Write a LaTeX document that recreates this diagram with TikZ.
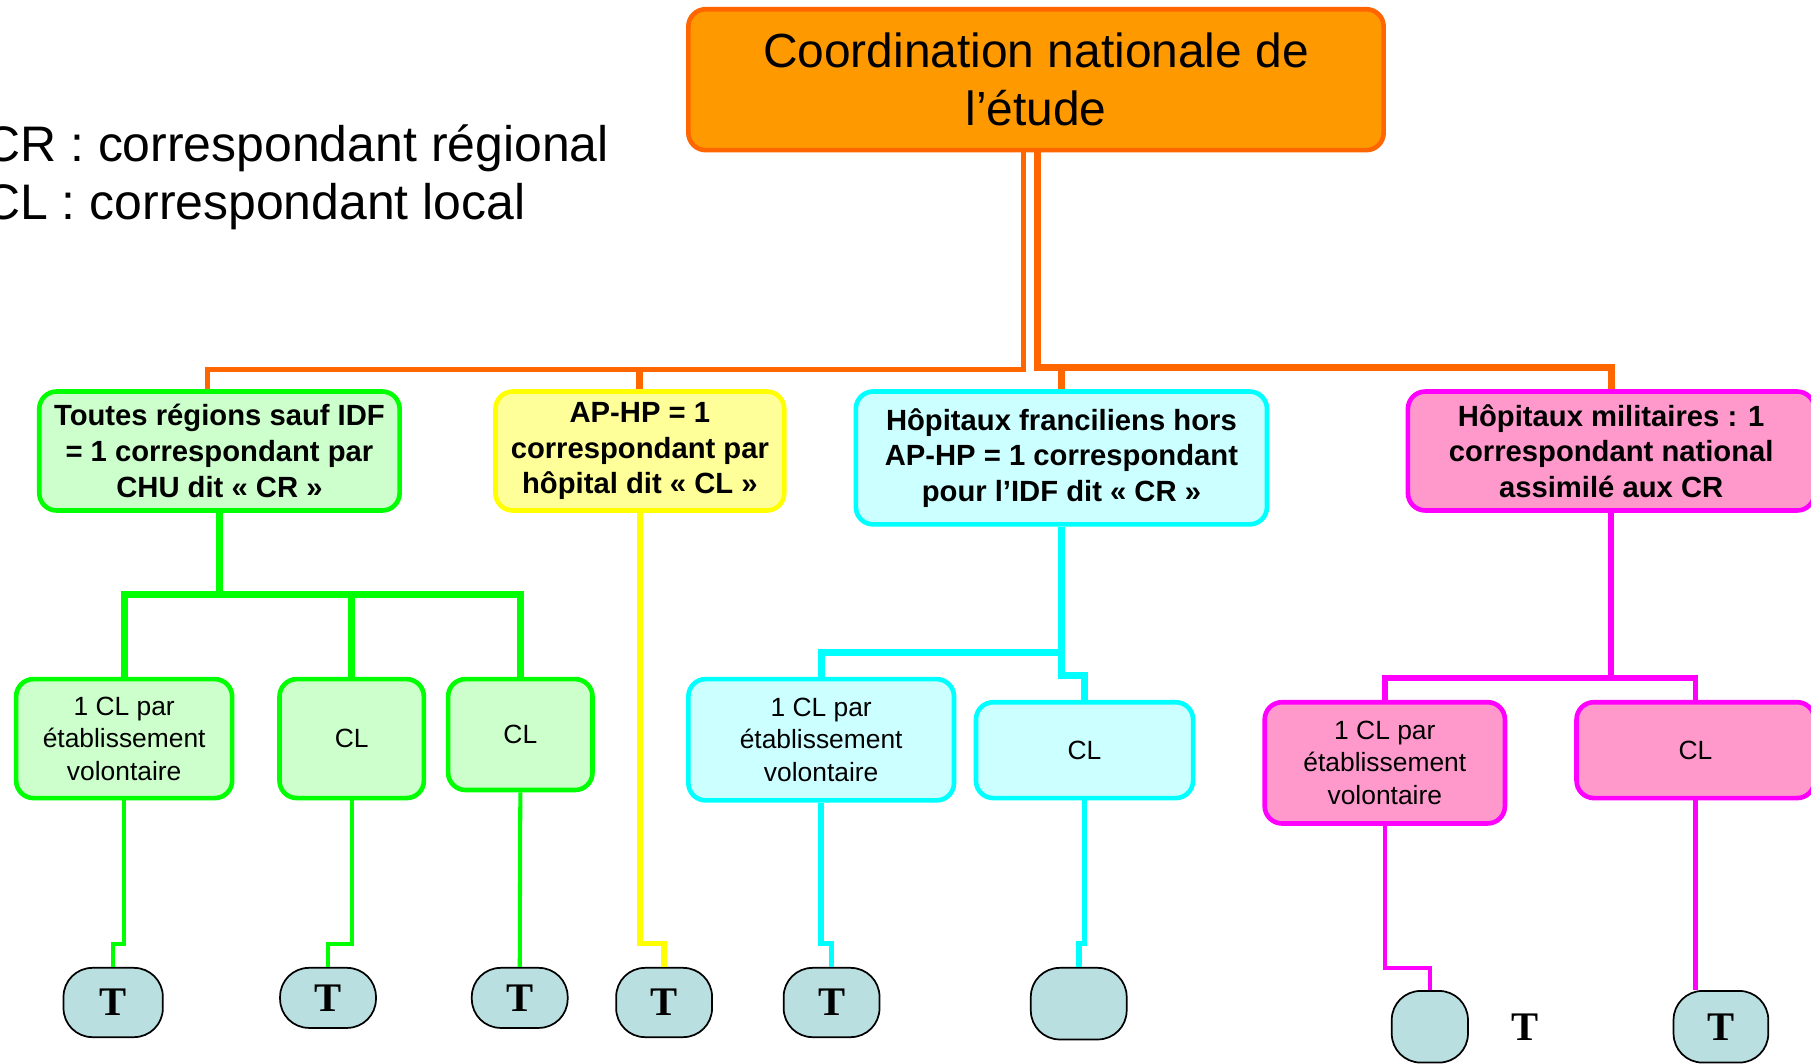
\documentclass[tikz,border=0pt]{standalone}
\usepackage{fontspec}
\setmainfont{Liberation Sans}
\newfontfamily\serifT{Liberation Serif}

\definecolor{coordfill}{HTML}{FF9900}
\definecolor{coorddraw}{HTML}{FF6600}
\definecolor{greenfill}{HTML}{CCFFCC}
\definecolor{greendraw}{HTML}{00FF00}
\definecolor{yellowfill}{HTML}{FFFF99}
\definecolor{yellowdraw}{HTML}{FFFF00}
\definecolor{cyanfill}{HTML}{CCFFFF}
\definecolor{cyandraw}{HTML}{00FFFF}
\definecolor{pinkfill}{HTML}{FF99CC}
\definecolor{pinkdraw}{HTML}{FF00FF}
\definecolor{tfill}{HTML}{B9DFE1}

\tikzset{
    box/.style={draw, line width=0.4mm, rounded corners=1.5mm, align=center, inner sep=0pt},
    topbox/.style={box, fill=coordfill, draw=coorddraw, minimum width=60.2mm, minimum height=12.2mm,
        font=\fontsize{11.8}{14.2}\selectfont},
    crbox/.style={box, font=\bfseries\fontsize{7.2}{8.8}\selectfont},
    clbox/.style={box, font=\fontsize{6.5}{8}\selectfont},
    greenbox/.style={fill=greenfill, draw=greendraw},
    yellowbox/.style={fill=yellowfill, draw=yellowdraw},
    cyanbox/.style={fill=cyanfill, draw=cyandraw},
    pinkbox/.style={fill=pinkfill, draw=pinkdraw},
    tcell/.style={draw=black, line width=0.15mm, fill=tfill, rounded corners=2.5mm, inner sep=0pt,
        font=\serifT\bfseries\fontsize{10}{10}\selectfont},
    legend/.style={anchor=base west, font=\fontsize{12.3}{14.2}\selectfont},
    orangeline/.style={draw=coorddraw, line width=0.6mm},
    greenline/.style={draw=greendraw, line width=0.6mm},
    yellowline/.style={draw=yellowdraw, line width=0.5mm},
    cyanline/.style={draw=cyandraw, line width=0.6mm},
    pinkline/.style={draw=pinkdraw, line width=0.5mm}
}

\begin{document}
\begin{tikzpicture}[x=0.1mm, y=-0.1mm]
    \useasboundingbox (0,0) rectangle (1568,920.4);

    % legend
    \node[legend] (legCR) at (-26,140) {CR : correspondant régional};
    \node[legend] (legCL) at (-26,190) {CL : correspondant local};

    % top
    \node[topbox] (coord) at (897,69) {Coordination nationale de\\l’étude};

    % correspondants
    \node[crbox, greenbox, minimum width=31.2mm, minimum height=10.3mm] (regions) at (190,390.5)
        {Toutes régions sauf IDF\\= 1 correspondant par\\CHU dit «~CR~»};
    \node[crbox, yellowbox, minimum width=25mm, minimum height=10.3mm] (aphp) at (554,390.5)
        {AP-HP = 1\\correspondant par\\hôpital dit «~CL~»};
    \node[crbox, cyanbox, minimum width=35.6mm, minimum height=11.5mm] (franciliens) at (919,396.5)
        {Hôpitaux franciliens hors\\AP-HP = 1 correspondant\\pour l’IDF dit «~CR~»};
    \node[crbox, pinkbox, minimum width=35.2mm, minimum height=10.3mm] (militaires) at (1395,390.5)
        {Hôpitaux militaires : 1\\correspondant national\\assimilé aux CR};

    % correspondants locaux
    \node[clbox, greenbox, minimum width=18.7mm, minimum height=10.3mm] (regEtab) at (107.5,639.5)
        {1 CL par\\établissement\\volontaire};
    \node[clbox, greenbox, minimum width=12.5mm, minimum height=10.3mm] (regCLa) at (304.5,639.5) {CL};
    \node[clbox, greenbox, minimum width=12.5mm, minimum height=9.6mm] (regCLb) at (450.5,636) {CL};
    \node[clbox, cyanbox, minimum width=23mm, minimum height=10.5mm] (idfEtab) at (711,640.5)
        {1 CL par\\établissement\\volontaire};
    \node[clbox, cyanbox, minimum width=18.8mm, minimum height=8.3mm] (idfCL) at (939,649.5) {CL};
    \node[clbox, pinkbox, minimum width=20.8mm, minimum height=10.5mm] (milEtab) at (1199,660.5)
        {1 CL par\\établissement\\volontaire};
    \node[clbox, pinkbox, minimum width=20.6mm, minimum height=8.3mm] (milCL) at (1468,649.5) {CL};

    % T
    \node[tcell, minimum width=8.6mm, minimum height=6mm] (tReg1) at (98,868) {T};
    \node[tcell, minimum width=8.3mm, minimum height=5.2mm] (tReg2) at (284,864) {T};
    \node[tcell, minimum width=8.3mm, minimum height=5.2mm] (tReg3) at (450,864) {T};
    \node[tcell, minimum width=8.3mm, minimum height=6mm] (tAphp) at (575,868) {T};
    \node[tcell, minimum width=8.3mm, minimum height=6mm] (tIdf1) at (720,868) {T};
    \node[tcell, minimum width=8.3mm, minimum height=6.2mm] (tIdf2) at (934,869) {};
    \node[tcell, minimum width=6.6mm, minimum height=6.2mm] (tMil1) at (1238,889) {};
    \node[font=\serifT\bfseries\fontsize{10}{10}\selectfont] (tLoose) at (1320,889) {T};
    \node[tcell, minimum width=8.2mm, minimum height=6.2mm] (tMil2) at (1490,889) {T};

    % orange
    \coordinate (busL) at (886,320);
    \coordinate (busR) at (898,318);
    \draw[orangeline, line width=0.45mm] (coord.south -| busL) -- (busL) -| ([xshift=-1mm]regions.north);
    \draw[orangeline] (busL -| aphp.north) -- (aphp.north);
    \draw[orangeline] (coord.south -| busR) -- (busR) -| (militaires.north);
    \draw[orangeline] (busR -| franciliens.north) -- (franciliens.north);

    % vert
    \coordinate (gj) at (190,515);
    \draw[greenline] (regions.south) -- (gj);
    \draw[greenline] (regEtab.north) |- (gj);
    \draw[greenline] (regCLa.north) |- (gj);
    \draw[greenline] (regCLb.north) |- (gj);
    \draw[greenline, line width=0.35mm] (regEtab.south) -- ++(0,124) -| (tReg1.north);
    \draw[greenline, line width=0.35mm] (regCLa.south) -- ++(0,124) -| (tReg2.north);
    \draw[greenline, line width=0.35mm] (regCLb.south) -- (tReg3.north);

    % jaune
    \draw[yellowline] (aphp.south) -- ++(0,373) -| (tAphp.north);

    % cyan
    \coordinate (cj) at (919,565);
    \draw[cyanline] (franciliens.south) -- (cj) -| (idfEtab.north);
    \draw[cyanline] (cj) -- ++(0,20) -| (idfCL.north);
    \draw[cyanline, line width=0.5mm] (idfEtab.south) -- ++(0,122) -| (tIdf1.north);
    \draw[cyanline, line width=0.5mm] (idfCL.south) -- ++(0,124) -| (tIdf2.north);

    % rose
    \coordinate (pj) at (1395,587);
    \draw[pinkline] (militaires.south) -- (pj);
    \draw[pinkline] (milEtab.north) |- (pj);
    \draw[pinkline] (milCL.north) |- (pj);
    \draw[pinkline, line width=0.4mm] (milEtab.south) -- ++(0,123) -| (tMil1.north);
    \draw[pinkline, line width=0.4mm] (milCL.south) -- (milCL.south |- tMil2.north);
\end{tikzpicture}
\end{document}
